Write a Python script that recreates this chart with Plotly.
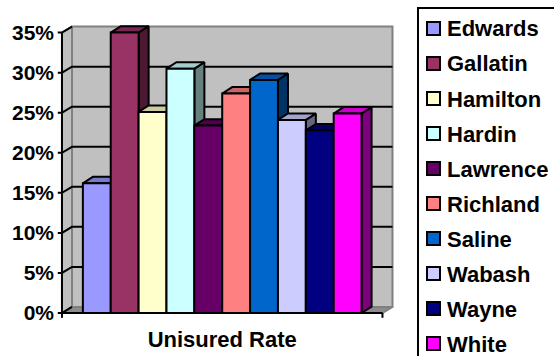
import plotly.graph_objects as go

# ---- data ----
counties = ["Edwards", "Gallatin", "Hamilton", "Hardin", "Lawrence",
            "Richland", "Saline", "Wabash", "Wayne", "White"]
rates = [16.2, 35.0, 25.1, 30.5, 23.4, 27.4, 29.1, 24.1, 22.8, 24.9]
colors = ["#9999FF", "#993366", "#FFFFCC", "#CCFFFF", "#660066",
          "#FF8080", "#0066CC", "#CCCCFF", "#000080", "#FF00FF"]
category_label = "Unisured Rate"
y_ticks = [0, 5, 10, 15, 20, 25, 30, 35]
y_tick_text = [f"{t}%" for t in y_ticks]

FONT = "Liberation Sans, Arial, sans-serif"

def shade(hexcol, f):
    h = hexcol.lstrip("#")
    r, g, b = (int(h[i:i + 2], 16) for i in (0, 2, 4))
    return "#%02x%02x%02x" % (int(r * f), int(g * f), int(b * f))

# geometry in axis units
n = len(counties)
x_left = -0.75
x_right = n + 0.75
wdx, wdy = 0.36, 0.75      # wall depth offset
bdx, bdy = 0.36, 0.80      # bar depth offset
ymax = y_ticks[-1]

fig = go.Figure()

def poly(xs, ys, fill, line_color, width=2):
    fig.add_trace(go.Scatter(x=xs + [xs[0]], y=ys + [ys[0]], mode="lines",
                             fill="toself", fillcolor=fill,
                             line=dict(color=line_color, width=width),
                             hoverinfo="skip", showlegend=False))

def lines(xs, ys, color, width=2):
    fig.add_trace(go.Scatter(x=xs, y=ys, mode="lines",
                             line=dict(color=color, width=width),
                             hoverinfo="skip", showlegend=False))

# back wall
poly([x_left + wdx, x_right + wdx, x_right + wdx, x_left + wdx],
     [wdy, wdy, ymax + wdy, ymax + wdy], "#C0C0C0", "#808080")
# side wall
poly([x_left, x_left, x_left + wdx, x_left + wdx],
     [0, ymax, ymax + wdy, wdy], "#C0C0C0", "#808080")
# floor
poly([x_left, x_right, x_right + wdx, x_left + wdx],
     [0, 0, wdy, wdy], "#8C8C8C", "#808080")

# gridlines + y ticks
gx, gy = [], []
tick_len = 0.15
for t in y_ticks:
    if t == 0 or t == ymax:
        gx += [x_left - tick_len, x_left, x_left + wdx, None]
        gy += [t, t, t + wdy, None]
    else:
        gx += [x_left - tick_len, x_left, x_left + wdx, x_right + wdx, None]
        gy += [t, t, t + wdy, t + wdy, None]
lines(gx, gy, "black", 2)

# front axis lines
lines([x_left, x_left, None, x_left, x_right, None,
       x_left, x_left, None, x_right, x_right],
      [ymax, 0, None, 0, 0, None, 0, -0.6, None, 0, -0.6], "black", 2)

# bars (side, top, front) from left to right
for i, (v, c) in enumerate(zip(rates, colors)):
    x0, x1 = i, i + 1
    poly([x1, x1, x1 + bdx, x1 + bdx], [0, v, v + bdy, bdy], shade(c, 0.5), "black")
    poly([x0, x1, x1 + bdx, x0 + bdx], [v, v, v + bdy, v + bdy], shade(c, 0.8), "black")
    poly([x0, x0, x1, x1], [0, v, v, 0], c, "black")

# layout geometry (pixels)
W, H = 554, 356
ml, mr, mt, mb = 55, 159, 23, 35
pw, ph = W - ml - mr, H - mt - mb

def px_to_paper(px, py):
    return (px - ml) / pw, 1 - (py - mt) / ph

# manual legend
bx0, by0 = px_to_paper(418, 8)
bx1, by1 = px_to_paper(570, 370)
shapes = [dict(type="rect", xref="paper", yref="paper", x0=bx0, y0=by1, x1=bx1, y1=by0,
               line=dict(color="black", width=2), fillcolor="white", layer="above")]
annotations = []
for k, (name, c) in enumerate(zip(counties, colors)):
    cy = 28.5 + 35 * k
    sx0, sy0 = px_to_paper(427, cy - 6.5)
    sx1, sy1 = px_to_paper(440, cy + 6.5)
    shapes.append(dict(type="rect", xref="paper", yref="paper", x0=sx0, y0=sy1, x1=sx1, y1=sy0,
                       line=dict(color="black", width=2), fillcolor=c, layer="above"))
    tx, ty = px_to_paper(445, cy + 0.5)
    annotations.append(dict(xref="paper", yref="paper", x=tx, y=ty, text=name,
                            showarrow=False, xanchor="left", yanchor="middle",
                            font=dict(family=FONT, size=22, color="black", weight="bold")))

fig.update_layout(
    width=W, height=H, autosize=False,
    margin=dict(l=ml, r=mr, t=mt, b=mb, pad=0, autoexpand=False),
    paper_bgcolor="white", plot_bgcolor="white",
    showlegend=False,
    shapes=shapes, annotations=annotations,
    xaxis=dict(range=[-1.0, 11.2], showgrid=False, zeroline=False, showline=False,
               tickvals=[n / 2], ticktext=[category_label], ticks="",
               ticklabelstandoff=3, automargin=False,
               tickfont=dict(family=FONT, size=22, color="black", weight="bold"),
               fixedrange=True),
    yaxis=dict(range=[-1.0, 36.2], showgrid=False, zeroline=False, showline=False,
               tickvals=y_ticks, ticktext=y_tick_text, ticks="", automargin=False,
               tickfont=dict(family=FONT, size=21, color="black", weight="bold"),
               fixedrange=True),
)

fig.write_html("out.html")
